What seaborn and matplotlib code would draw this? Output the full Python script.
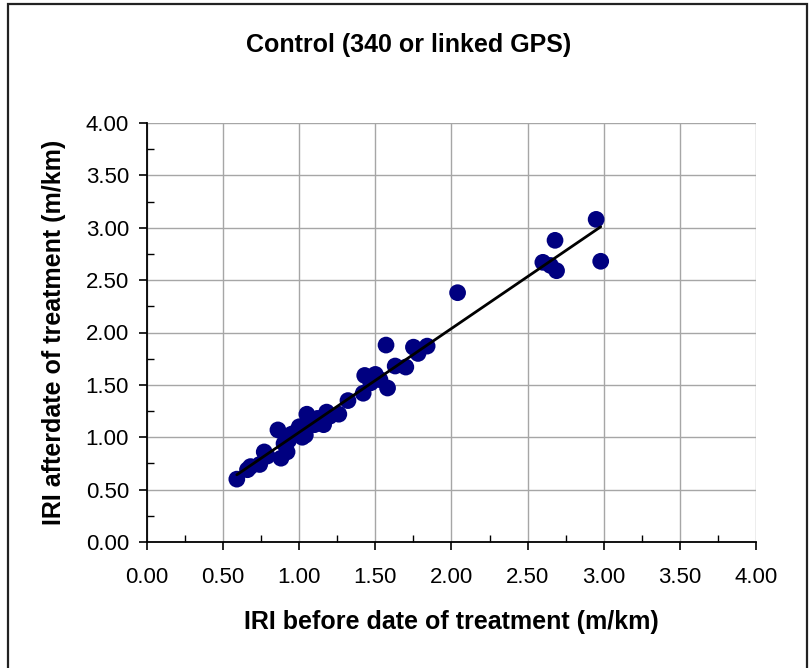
import numpy as np
import pandas as pd
import matplotlib
matplotlib.use("Agg")
import matplotlib.pyplot as plt
from matplotlib.patches import Rectangle
from matplotlib.ticker import MultipleLocator, FormatStrFormatter
import seaborn as sns

# Data
iri_before = [0.59, 0.66, 0.68, 0.74, 0.77, 0.79, 0.86, 0.88, 0.90, 0.92,
              0.93, 0.95, 0.98, 1.00, 1.02, 1.04, 1.05, 1.07, 1.10, 1.12,
              1.16, 1.18, 1.20, 1.26, 1.32, 1.42, 1.43, 1.47, 1.50, 1.53,
              1.57, 1.58, 1.63, 1.70, 1.75, 1.78, 1.84, 2.04, 2.60, 2.65,
              2.68, 2.69, 2.95, 2.98]
iri_after = [0.60, 0.69, 0.72, 0.74, 0.86, 0.82, 1.07, 0.80, 0.94, 0.86,
             0.97, 1.03, 1.05, 1.10, 1.00, 1.02, 1.22, 1.14, 1.12, 1.18,
             1.12, 1.24, 1.20, 1.22, 1.35, 1.42, 1.59, 1.52, 1.60, 1.55,
             1.88, 1.47, 1.68, 1.67, 1.86, 1.80, 1.87, 2.38, 2.67, 2.64,
             2.88, 2.59, 3.08, 2.68]

title = "Control (340 or linked GPS)"
xlabel = "IRI before date of treatment (m/km)"
ylabel = "IRI afterdate of treatment (m/km)"

df = pd.DataFrame({"before": iri_before, "after": iri_after})

sns.set_style("white")
plt.rcParams["font.family"] = ["Liberation Sans", "DejaVu Sans"]
plt.rcParams["text.color"] = "black"
plt.rcParams["axes.labelcolor"] = "black"

fig = plt.figure(figsize=(8.12, 6.68), dpi=100)
ax = fig.add_axes([147/812, 1-542/668, (756-147)/812, (542-123)/668])

sns.scatterplot(data=df, x="before", y="after", ax=ax, color="#000080",
                s=145, edgecolor="none", zorder=3)
sns.regplot(data=df, x="before", y="after", ax=ax, scatter=False, ci=None,
            color="black", line_kws={"linewidth": 2.0, "zorder": 4})

ax.set_xlim(0, 4)
ax.set_ylim(0, 4)
ax.xaxis.set_major_locator(MultipleLocator(0.5))
ax.yaxis.set_major_locator(MultipleLocator(0.5))
ax.xaxis.set_minor_locator(MultipleLocator(0.25))
ax.yaxis.set_minor_locator(MultipleLocator(0.25))
ax.xaxis.set_major_formatter(FormatStrFormatter("%.2f"))
ax.yaxis.set_major_formatter(FormatStrFormatter("%.2f"))
ax.grid(True, which="major", color="#a6a6a6", linewidth=1.0)
ax.set_axisbelow(True)
for s in ["top", "right"]:
    ax.spines[s].set_visible(False)
for s in ["left", "bottom"]:
    ax.spines[s].set_color("black")
    ax.spines[s].set_linewidth(1.3)
    ax.spines[s].set_zorder(5)
ax.tick_params(which="major", direction="out", length=6, width=1.2,
               color="black", labelsize=16, labelcolor="black", pad=7,
               left=True, bottom=True)
ax.tick_params(which="minor", direction="in", length=5, width=1.0,
               color="black", left=True, bottom=True)
ax.tick_params(axis="x", which="major", pad=12)

ax.set_xlabel(xlabel, fontsize=18, fontweight="bold", labelpad=16, color="black")
ax.set_ylabel(ylabel, fontsize=18, fontweight="bold", labelpad=14, color="black")

fig.text(409/812, 1-45/668, title, ha="center", va="center",
         fontsize=18, fontweight="bold", color="black")

fig.patches.append(Rectangle((8/812, -0.02), 799/812, 1.02-4/668,
                             transform=fig.transFigure, fill=False,
                             edgecolor="#222222", linewidth=1.6))

fig.savefig("out.png", dpi=100)
